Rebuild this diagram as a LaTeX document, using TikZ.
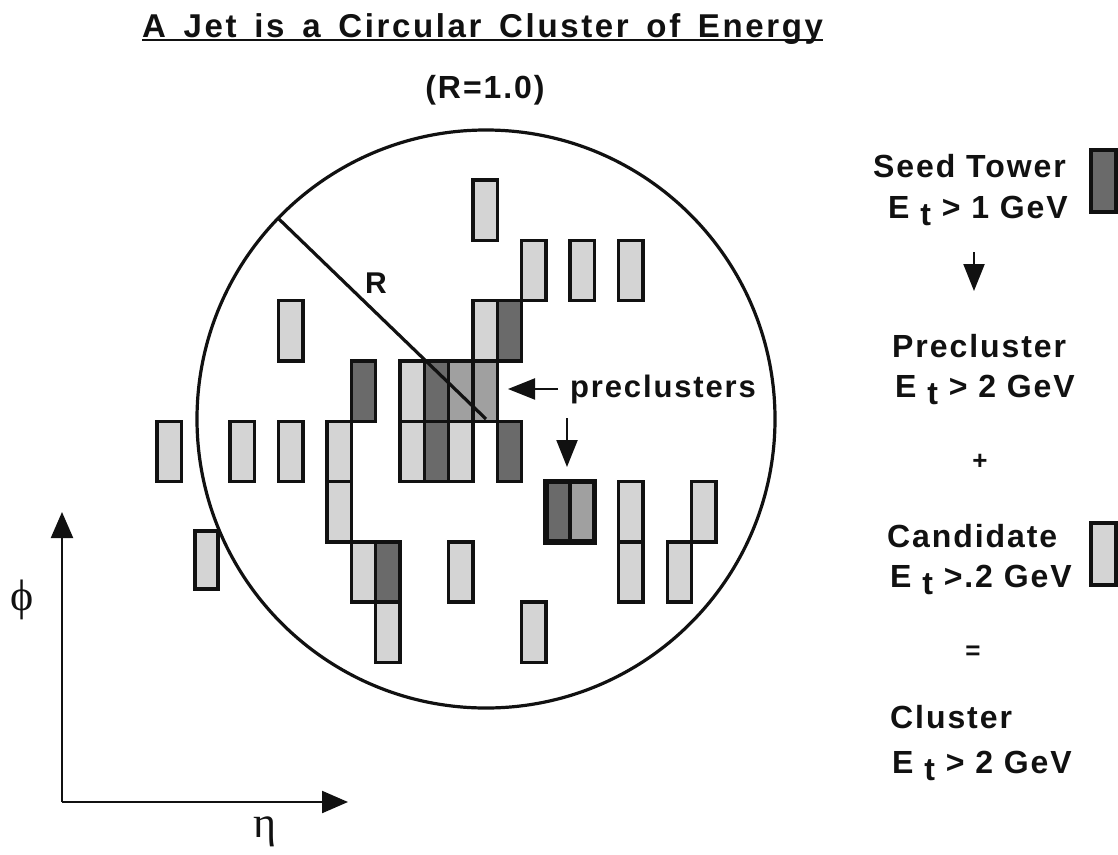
\documentclass[tikz,border=0pt]{standalone}
\usepackage{fontspec}
\setmainfont{Liberation Sans}
\newfontfamily\chicago[LetterSpace=6]{Liberation Sans}
\newfontfamily\chicagotitle[LetterSpace=8,WordSpace=1.5]{Liberation Sans}
\newfontfamily\symb{Liberation Serif}
\usetikzlibrary{arrows.meta}
\definecolor{ink}{HTML}{111111}
\definecolor{cand}{HTML}{D4D4D4}
\definecolor{prec}{HTML}{A0A0A0}
\definecolor{seed}{HTML}{6A6A6A}
\tikzset{
  >=Triangle,
  lab/.style={font=\chicago\bfseries\fontsize{32}{38}\selectfont, text=ink, inner sep=0pt, anchor=base west},
  sign/.style={font=\chicago\bfseries\fontsize{26}{30}\selectfont, text=ink, inner sep=0pt},
  greek/.style={font=\symb\fontsize{44}{50}\selectfont, text=ink, inner sep=0pt},
  candcell/.style={draw=ink, line width=3.4pt, fill=cand},
  precell/.style={draw=ink, line width=3.4pt, fill=prec},
  seedcell/.style={draw=ink, line width=3.4pt, fill=seed},
  ring/.style={draw=ink, line width=3.2pt},
  flow/.style={-{Triangle[length=27pt,width=21pt]}, line width=2.2pt, draw=ink},
  axis/.style={-{Triangle[length=26pt,width=22pt]}, line width=2.2pt, draw=ink},
}
\def\jetCand{13/0, 15/1, 17/1, 19/1, 5/2, 13/2, 10/3, 0/4, 3/4, 5/4, 7/4, 10/4, 12/4, 7/5, 19/5, 22/5, 8/6, 12/6, 19/6, 21/6, 9/7, 15/7}
\def\jetPre{12/3, 13/3, 17/5}
\def\jetSeed{14/2, 8/3, 11/3, 11/4, 14/4, 16/5, 9/6}

\begin{document}
\begin{tikzpicture}[x=1pt, y=-1pt]
  \useasboundingbox[fill=white] (0,0) rectangle (1118,854);
  \foreach \c/\r in \jetCand {
    \draw[candcell] ({157+24.3*\c},{180+60.3*\r}) rectangle ++(24.3,60.3);
  }
  \foreach \c/\r in \jetPre {
    \draw[precell] ({157+24.3*\c},{180+60.3*\r}) rectangle ++(24.3,60.3);
  }
  \foreach \c/\r in \jetSeed {
    \draw[seedcell] ({157+24.3*\c},{180+60.3*\r}) rectangle ++(24.3,60.3);
  }
  \draw[candcell] (195,531) rectangle ++(23,58);
  \draw[draw=ink, line width=5.5pt] ({157+24.3*16},{180+60.3*5}) rectangle ++(48.6,60.3);

  \coordinate (ctr) at (486,419);
  \draw[ring] (ctr) circle[radius=289];
  \draw[ring] (ctr) -- ++(224:289) coordinate (rim);
  \node[lab, anchor=base, font=\chicago\bfseries\fontsize{30}{36}\selectfont] (rlab) at (376,293) {R};

  \node[lab, font=\chicagotitle\bfseries\fontsize{33}{40}\selectfont] (title) at (142,37) {A Jet is a Circular Cluster of Energy};
  \draw[ink, line width=1.8pt] ([yshift=-3pt]title.base west) -- ([yshift=-3pt]title.base east);
  \node[lab, anchor=base] (rval) at (485,98) {(R=1.0)};

  \node[lab, font=\chicago\bfseries\fontsize{31}{36}\selectfont] (plab) at (570,397) {preclusters};
  \coordinate (pltip) at (508,388);
  \draw[flow] ([xshift=-12pt]plab.west) -- (pltip |- plab.west);
  \coordinate (dtail) at (567,418);
  \coordinate (dtip) at (567,467);
  \draw[flow] (dtail) -- (dtip);

  \node[lab] (seedA) at (873,177) {Seed Tower};
  \node[lab] (seedB) at (888,218) {E \raisebox{-7pt}{t} > 1 GeV};
  \draw[seedcell] (1091,150) rectangle (1116,212);
  \coordinate (sa) at (974,252);
  \coordinate (sb) at (974,291);
  \draw[flow] (sa) -- (sb);
  \node[lab] (preA) at (892,357) {Precluster};
  \node[lab] (preB) at (895,397) {E \raisebox{-7pt}{t} > 2 GeV};
  \node[sign] (plus) at (980,462) {+};
  \node[lab] (candA) at (887,547) {Candidate};
  \node[lab] (candB) at (890,587) {E \raisebox{-7pt}{t} >.2 GeV};
  \draw[candcell] (1091,523) rectangle (1116,585);
  \node[sign] (eq) at (973,653) {=};
  \node[lab] (clusA) at (890,728) {Cluster};
  \node[lab] (clusB) at (892,773) {E \raisebox{-7pt}{t} > 2 GeV};

  \coordinate (orig) at (62,802);
  \coordinate (phiend) at (62,512);
  \coordinate (etaend) at (348,802);
  \draw[axis] (orig) -- (phiend);
  \draw[axis] (orig) -- (etaend);
  \node[greek] (phi) at (22,600) {ϕ};
  \node[greek] (eta) at (265,832) {η};
\end{tikzpicture}
\end{document}
